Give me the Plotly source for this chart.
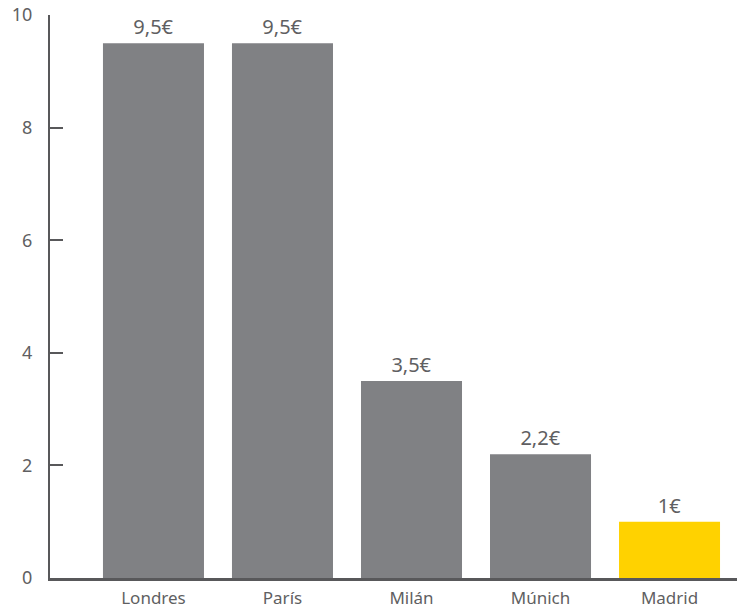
import plotly.graph_objects as go

cities = ["Londres", "París", "Milán", "Múnich", "Madrid"]
prices = [9.5, 9.5, 3.5, 2.2, 1.0]
price_labels = ["9,5€", "9,5€", "3,5€", "2,2€", "1€"]
bar_colors = ["#808184", "#808184", "#808184", "#808184", "#FFD200"]
y_ticks = [0, 2, 4, 6, 8, 10]

axis_color = "#58585A"
text_color = "#5F5F62"
font_family = "Noto Sans, Open Sans, DejaVu Sans, sans-serif"

fig = go.Figure(
    go.Bar(
        x=cities,
        y=prices,
        text=price_labels,
        textposition="outside",
        textfont=dict(size=20, color=text_color, family=font_family),
        marker=dict(color=bar_colors, line=dict(width=0)),
        cliponaxis=False,
        width=0.783,
    )
)

fig.update_layout(
    width=737,
    height=609,
    margin=dict(l=50, r=0, t=15, b=31),
    paper_bgcolor="white",
    plot_bgcolor="white",
    showlegend=False,
    font=dict(family=font_family, color=text_color, size=17),
    xaxis=dict(
        type="category",
        range=[-0.802, 4.523],
        automargin=False,
        showline=True,
        linecolor=axis_color,
        linewidth=3,
        showgrid=False,
        ticks="",
        ticklabelstandoff=3,
        tickfont=dict(size=17, color=text_color),
        fixedrange=True,
    ),
    yaxis=dict(
        range=[0, 10],
        automargin=False,
        tickvals=y_ticks,
        ticktext=[str(v) for v in y_ticks],
        showline=True,
        linecolor=axis_color,
        linewidth=2,
        ticks="inside",
        ticklen=13,
        tickwidth=2,
        tickcolor=axis_color,
        showgrid=False,
        zeroline=False,
        ticklabelstandoff=12,
        tickfont=dict(size=18, color=text_color),
        fixedrange=True,
    ),
)

fig.write_html("out.html")
